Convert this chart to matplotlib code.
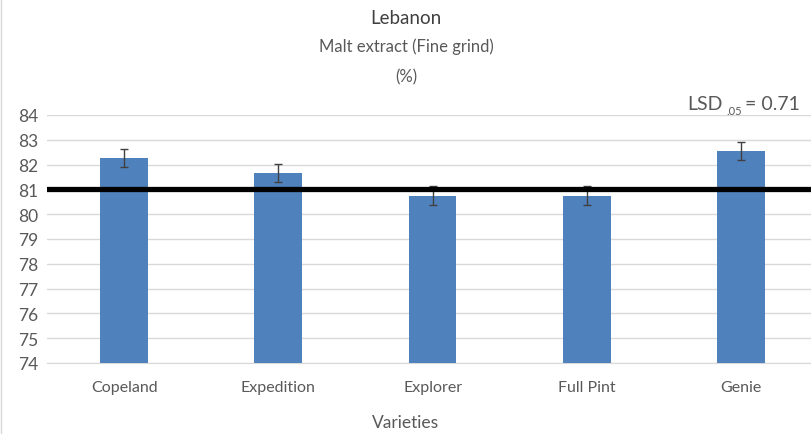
import matplotlib.pyplot as plt

# values
varieties = ["Copeland", "Expedition", "Explorer", "Full Pint", "Genie"]
malt_extract = [82.27, 81.67, 80.75, 80.75, 82.55]
errors = [0.37, 0.37, 0.38, 0.38, 0.37]
mean_line = 81.0
lsd = 0.71

plt.rcParams['font.family'] = ['Lato', 'DejaVu Sans']

fig = plt.figure(figsize=(8.12, 4.35), dpi=100)
ax = fig.add_axes([47 / 812, 1 - 364 / 435, 1 - 47 / 812, (364 - 116) / 435])

x = list(range(len(varieties)))
ax.bar(x, malt_extract, width=0.31, color="#4F81BD", zorder=3)
ax.errorbar(x, malt_extract, yerr=errors, fmt="none", ecolor="#404040",
            elinewidth=1, capsize=3, capthick=1, zorder=4)
ax.axhline(mean_line, color="black", linewidth=3.8, zorder=5)

ax.set_ylim(74, 84)
ax.set_xlim(-0.5, 4.46)
ax.set_yticks(range(74, 85))
ax.set_xticks(x)
ax.set_xticklabels(varieties)
ax.grid(axis="y", color="#D9D9D9", linewidth=1, zorder=0)
for s in ["top", "right", "left"]:
    ax.spines[s].set_visible(False)
ax.spines["bottom"].set_color("#D9D9D9")
ax.tick_params(axis="both", length=0, labelcolor="#595959")
ax.tick_params(axis="x", pad=12, labelsize=11.5)
ax.tick_params(axis="y", pad=6, labelsize=12.5)

fig.text(0.5, 1 - 423 / 435, "Varieties", ha="center", va="center",
         fontsize=12.5, color="#595959")
fig.text(0.5, 1 - 18 / 435, "Lebanon", ha="center", va="center",
         fontsize=13.5, color="#404040")
fig.text(0.5, 1 - 47 / 435, "Malt extract (Fine grind)", ha="center", va="center",
         fontsize=12, color="#595959")
fig.text(0.5, 1 - 77 / 435, "(%)", ha="center", va="center",
         fontsize=12, color="#595959")

# LSD label with a small subscript, built from three pieces
y_lsd = 1 - 104 / 435
fig.canvas.draw()
r = fig.canvas.get_renderer()
t3 = fig.text(800 / 812, y_lsd, "= %.2f" % lsd, ha="right", va="center",
              fontsize=14, color="#595959")
x3 = t3.get_window_extent(r).x0 / fig.bbox.width
t2 = fig.text(x3 - 0.004, y_lsd - 0.018, ".05", ha="right", va="center",
              fontsize=8, color="#595959")
x2 = t2.get_window_extent(r).x0 / fig.bbox.width
fig.text(x2 - 0.004, y_lsd, "LSD", ha="right", va="center",
         fontsize=14, color="#595959")

# thin chart border on the left edge
fig.add_artist(plt.Line2D([0.001, 0.001], [0, 1], color="#D9D9D9", linewidth=1))

fig.savefig("out.png", dpi=100)
